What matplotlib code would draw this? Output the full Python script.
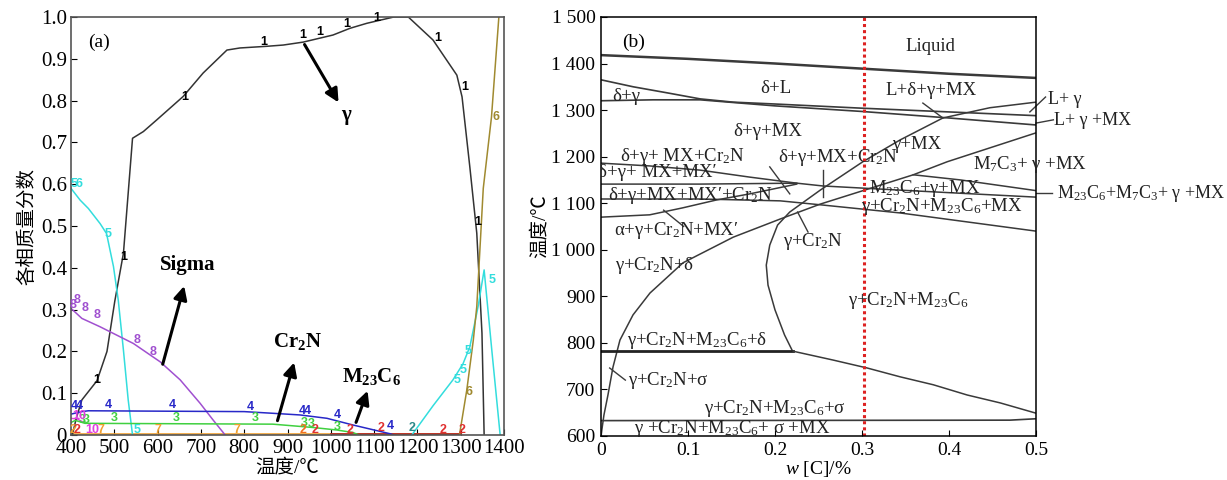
import matplotlib
matplotlib.use("Agg")
import matplotlib.pyplot as plt

plt.rcParams['font.family'] = ['Liberation Serif', 'Noto Sans CJK SC']
plt.rcParams['mathtext.fontset'] = 'custom'
plt.rcParams['mathtext.rm'] = 'Liberation Serif'
plt.rcParams['mathtext.it'] = 'Liberation Serif:italic'
plt.rcParams['mathtext.bf'] = 'Liberation Serif:bold'

# ---------------- (a) phase fractions vs temperature ----------------
gamma_T = [403, 412, 425, 460, 483, 501, 521, 542, 567, 598, 659, 705, 760, 790, 852, 890, 936,
           1005, 1044, 1083, 1145, 1179, 1236, 1291, 1303, 1321, 1337, 1349, 1354]
gamma_f = [0.0, 0.04, 0.084, 0.13, 0.2, 0.32, 0.435, 0.71, 0.726, 0.754, 0.81, 0.866, 0.921, 0.926,
           0.93, 0.933, 0.94, 0.957, 0.973, 0.985, 1.0, 1.0, 0.945, 0.861, 0.809, 0.641, 0.483, 0.244, 0.0]

cyan_lo_T = [400, 421, 440, 467, 482, 498, 509, 521, 532, 542]
cyan_lo_f = [0.59, 0.562, 0.542, 0.506, 0.482, 0.403, 0.323, 0.203, 0.084, 0.0]
cyan_hi_T = [1187, 1236, 1282, 1305, 1321, 1340, 1354, 1372, 1391]
cyan_hi_f = [0.0, 0.07, 0.132, 0.17, 0.211, 0.307, 0.395, 0.2, 0.0]

liq_T = [1297, 1314, 1329, 1337, 1352, 1371, 1388]
liq_f = [0.0, 0.108, 0.227, 0.307, 0.59, 0.761, 1.0]

sigma_T = [400, 425, 467, 544, 606, 652, 698, 728, 756]
sigma_f = [0.303, 0.279, 0.259, 0.219, 0.175, 0.132, 0.076, 0.036, 0.0]

cr2n_T = [400, 425, 440, 800, 866, 929, 991, 1051, 1100, 1137, 1145]
cr2n_f = [0.05, 0.056, 0.058, 0.056, 0.052, 0.048, 0.04, 0.024, 0.012, 0.003, 0.0]

green_T = [400, 410, 432, 866, 959, 1014, 1051, 1065]
green_f = [0.03, 0.035, 0.028, 0.026, 0.018, 0.012, 0.006, 0.0]

orange_T = [400, 1300]
orange_f = [0.002, 0.002]
red_T = [1000, 1300]
red_f = [0.003, 0.003]
magenta_T = [400, 415, 430]
magenta_f = [0.04, 0.038, 0.03]

# curve number labels: (text, T, f, colour)
curve_labels = [
    ("1", 459, 0.132, "black"), ("1", 521, 0.427, "black"), ("1", 663, 0.809, "black"),
    ("1", 844, 0.941, "black"), ("1", 936, 0.957, "black"), ("1", 975, 0.965, "black"),
    ("1", 1037, 0.983, "black"), ("1", 1106, 0.998, "black"), ("1", 1248, 0.949, "black"),
    ("1", 1310, 0.833, "black"), ("1", 1340, 0.51, "black"),
    ("5", 407, 0.6, "#33dddd"), ("6", 419, 0.6, "#33dddd"), ("5", 486, 0.48, "#33dddd"),
    ("5", 552, 0.012, "#33dddd"), ("5", 1291, 0.132, "#33dddd"), ("5", 1306, 0.155, "#33dddd"),
    ("5", 1317, 0.2, "#33dddd"), ("5", 1372, 0.37, "#33dddd"),
    ("6", 1319, 0.104, "#a08a30"), ("6", 1381, 0.76, "#a08a30"),
    ("8", 404, 0.31, "#a050d0"), ("8", 414, 0.323, "#a050d0"), ("8", 432, 0.304, "#a050d0"),
    ("8", 459, 0.287, "#a050d0"), ("8", 552, 0.227, "#a050d0"), ("8", 589, 0.199, "#a050d0"),
    ("4", 407, 0.069, "#2828c8"), ("4", 420, 0.069, "#2828c8"), ("4", 486, 0.071, "#2828c8"),
    ("4", 633, 0.071, "#2828c8"), ("4", 815, 0.068, "#2828c8"), ("4", 933, 0.058, "#2828c8"),
    ("4", 946, 0.058, "#2828c8"), ("4", 1015, 0.047, "#2828c8"), ("4", 1137, 0.022, "#2828c8"),
    ("3", 425, 0.037, "#40d040"), ("3", 436, 0.037, "#40d040"), ("3", 499, 0.04, "#40d040"),
    ("3", 642, 0.041, "#40d040"), ("3", 825, 0.04, "#40d040"), ("3", 938, 0.029, "#40d040"),
    ("3", 955, 0.027, "#40d040"), ("3", 1015, 0.02, "#40d040"),
    ("10", 418, 0.045, "#e040e0"), ("10", 449, 0.012, "#e040e0"),
    ("2", 404, 0.012, "#f0a030"), ("2", 415, 0.012, "#e03030"), ("7", 468, 0.012, "#f0a030"),
    ("7", 601, 0.012, "#f0a030"), ("7", 783, 0.012, "#f0a030"),
    ("2", 936, 0.011, "#f07020"), ("2", 963, 0.011, "#e03030"), ("2", 1044, 0.012, "#e03030"),
    ("2", 1117, 0.016, "#e03030"), ("2", 1187, 0.016, "#2a8a8a"), ("2", 1259, 0.012, "#e03030"),
    ("2", 1302, 0.012, "#e03030"),
]

# phase arrows: (text, text T, text f, tail T, tail f, head T, head f)
phase_arrows = [
    (r"$\mathbf{\gamma}$", 1037, 0.76, 936, 0.94, 1021, 0.79),
    ("Sigma", 670, 0.407, 610, 0.163, 663, 0.363),
    (r"$\mathbf{Cr_2N}$", 922, 0.223, 875, 0.028, 917, 0.18),
    (r"$\mathbf{M_{23}C_6}$", 1095, 0.14, 1056, 0.024, 1087, 0.112),
]

# ---------------- (b) phase diagram, w[C] vs temperature ----------------
liquidus_w = [0, 0.1, 0.2, 0.3, 0.4, 0.5]
liquidus_T = [1418, 1410, 1400, 1389, 1378, 1369]
b2_w = [0, 0.037, 0.076, 0.114, 0.152, 0.2, 0.3, 0.4, 0.5]
b2_T = [1365, 1350, 1337, 1324, 1317, 1313, 1304, 1296, 1288]
b3_w = [0, 0.06, 0.114, 0.2, 0.3, 0.4, 0.5]
b3_T = [1320, 1322, 1322, 1309, 1297, 1283, 1268]
r1_w = [0.22, 0.211, 0.2, 0.192, 0.19, 0.194, 0.203, 0.217, 0.252, 0.301, 0.344, 0.393, 0.447, 0.5]
r1_T = [783, 817, 871, 924, 967, 1010, 1053, 1081, 1128, 1189, 1236, 1283, 1305, 1317]
r2_w = [0, 0.0034, 0.008, 0.0138, 0.0218, 0.0368, 0.0563, 0.0943, 0.152, 0.206, 0.252, 0.359, 0.398, 0.5]
r2_T = [600, 645, 688, 748, 806, 860, 907, 972, 1027, 1066, 1098, 1161, 1189, 1251]
h780_w = [0, 0.221]
h780_T = [782, 782]
low_w = [0.221, 0.267, 0.306, 0.344, 0.382, 0.421, 0.459, 0.5]
low_T = [782, 763, 746, 727, 710, 688, 671, 649]
bottom_w = [0, 0.47, 0.5]
bottom_T = [633, 634, 637]
m1_w = [0, 0.056, 0.114, 0.171, 0.225, 0.255, 0.344, 0.5]
m1_T = [1186, 1180, 1171, 1156, 1143, 1137, 1128, 1113]
m2_w = [0, 0.114, 0.225]
m2_T = [1141, 1141, 1143]
m3_w = [0, 0.114, 0.206, 0.255, 0.344, 0.5]
m3_T = [1109, 1109, 1105, 1096, 1079, 1040]
m4_w = [0, 0.056, 0.094, 0.133, 0.171, 0.225]
m4_T = [1070, 1075, 1090, 1107, 1120, 1141]
m5_w = [0.359, 0.413, 0.5]
m5_T = [1161, 1150, 1127]
# short leader strokes inside the plot: (w0, T0, w1, T1)
leaders = [
    (0.194, 1178, 0.217, 1120), (0.255, 1171, 0.255, 1113), (0.072, 1085, 0.095, 1050),
    (0.226, 1081, 0.238, 1038), (0.37, 1315, 0.393, 1283), (0.010, 746, 0.028, 720),
]
outer_leaders = [
    (0.493, 1296, 0.511, 1328), (0.5, 1272, 0.52, 1279), (0.5, 1122, 0.518, 1122),
]
region_labels = [
    ("Liquid", 0.379, 1436), ("δ+L", 0.201, 1347), ("δ+γ", 0.029, 1330),
    ("L+δ+γ+MX", 0.379, 1343), ("δ+γ+MX", 0.192, 1255), ("γ+MX", 0.363, 1227),
    ("δ+γ+ MX+Cr$_2$N", 0.094, 1201), ("δ+γ+MX+Cr$_2$N", 0.272, 1199),
    ("δ+γ+MX+MX′+Cr$_2$N", 0.103, 1116), ("M$_{23}$C$_6$+γ+MX", 0.372, 1131),
    ("γ+Cr$_2$N+M$_{23}$C$_6$+MX", 0.392, 1092), ("α+γ+Cr$_2$N+MX′", 0.087, 1042),
    ("γ+Cr$_2$N", 0.244, 1017), ("γ+Cr$_2$N+δ", 0.062, 967),
    ("γ+Cr$_2$N+M$_{23}$C$_6$", 0.353, 892), ("γ+Cr$_2$N+M$_{23}$C$_6$+δ", 0.110, 806),
    ("γ+Cr$_2$N+σ", 0.078, 720), ("γ+Cr$_2$N+M$_{23}$C$_6$+σ", 0.2, 660),
    ("γ +Cr$_2$N+M$_{23}$C$_6$+ σ +MX", 0.151, 617),
]
outer_labels = [
    ("L+ γ", 0.514, 1322), ("L+ γ +MX", 0.521, 1277),
    ("M$_{23}$C$_6$+M$_7$C$_3$+ γ +MX", 0.524, 1120),
]
b_yticks = [600, 700, 800, 900, 1000, 1100, 1200, 1300, 1400, 1500]
b_yticklabels = ["600", "700", "800", "900", "1 000", "1 100", "1 200", "1 300", "1 400", "1 500"]
b_xticks = [0, 0.1, 0.2, 0.3, 0.4, 0.5]
b_xticklabels = ["0", "0.1", "0.2", "0.3", "0.4", "0.5"]

fig = plt.figure(figsize=(12.27, 4.8), dpi=100)

# ---- panel (a)
ax = fig.add_axes([0.0579, 0.0937, 0.3529, 0.8708])
ax.plot(orange_T, orange_f, color="#f0a030", lw=1.2)
ax.plot(red_T, red_f, color="#b02020", lw=1.2)
ax.plot(magenta_T, magenta_f, color="#e040e0", lw=1.0)
ax.plot(gamma_T, gamma_f, color="#333333", lw=1.1)
ax.plot(cyan_lo_T, cyan_lo_f, color="#33dddd", lw=1.1)
ax.plot(cyan_hi_T, cyan_hi_f, color="#33dddd", lw=1.1)
ax.plot(liq_T, liq_f, color="#a08a30", lw=1.1)
ax.plot(sigma_T, sigma_f, color="#a050d0", lw=1.1)
ax.plot(cr2n_T, cr2n_f, color="#2828c8", lw=1.1)
ax.plot(green_T, green_f, color="#40d040", lw=1.1)
for txt, t, f, c in curve_labels:
    ax.text(t, f, txt, color=c, fontsize=9, fontweight="bold", family="Liberation Sans",
            ha="center", va="center")
for txt, tx, ty, t0, f0, t1, f1 in phase_arrows:
    ax.annotate("", xy=(t1, f1), xytext=(t0, f0),
                arrowprops=dict(arrowstyle="-|>", color="black", lw=2.2, mutation_scale=20))
    ax.text(tx, ty, txt, fontsize=15, fontweight="bold", ha="center", va="center")
ax.text(0.04, 0.96, "(a)", transform=ax.transAxes, fontsize=14, ha="left", va="top")
ax.set_xlim(400, 1400)
ax.set_ylim(0, 1.0)
ax.set_xticks(range(400, 1401, 100))
ax.set_yticks([i / 10 for i in range(11)])
ax.set_yticklabels(["0"] + [f"{i / 10:.1f}" for i in range(1, 11)])
ax.tick_params(direction="in", length=4, labelsize=15, pad=3)
for s in ax.spines.values():
    s.set_color("#555555")
    s.set_linewidth(1.2)
ax.set_xlabel("温度/℃", fontsize=14, labelpad=0)
ax.set_ylabel("各相质量分数", fontsize=14, labelpad=3)

# ---- panel (b)
bx = fig.add_axes([0.4898, 0.0917, 0.3545, 0.873])
lc = "#3a3a3a"
bx.plot(liquidus_w, liquidus_T, color=lc, lw=1.8)
bx.plot(b2_w, b2_T, color=lc, lw=1.2)
bx.plot(b3_w, b3_T, color=lc, lw=1.2)
bx.plot(r1_w, r1_T, color=lc, lw=1.1)
bx.plot(r2_w, r2_T, color=lc, lw=1.1)
bx.plot(h780_w, h780_T, color="#222222", lw=2.0)
bx.plot(low_w, low_T, color=lc, lw=1.1)
bx.plot(bottom_w, bottom_T, color=lc, lw=1.2)
bx.plot(m1_w, m1_T, color=lc, lw=1.1)
bx.plot(m2_w, m2_T, color=lc, lw=1.1)
bx.plot(m3_w, m3_T, color=lc, lw=1.1)
bx.plot(m4_w, m4_T, color=lc, lw=1.1)
bx.plot(m5_w, m5_T, color=lc, lw=1.1)
for w0, t0, w1, t1 in leaders:
    bx.plot([w0, w1], [t0, t1], color=lc, lw=1.0)
for w0, t0, w1, t1 in outer_leaders:
    bx.plot([w0, w1], [t0, t1], color=lc, lw=1.0, clip_on=False)
bx.axvline(0.302, color="#dd2222", lw=2.2, ls=(0, (1, 1)))
for txt, w, t in region_labels:
    bx.text(w, t, txt, fontsize=13.5, ha="center", va="center", color="#222222")
bx.text(-0.003, 1165, "δ+γ+ MX+MX′", fontsize=13.5, ha="left", va="center", color="#222222",
        clip_on=True)
bx.text(0.493, 1184, "M$_7$C$_3$+ γ +MX", fontsize=13.5, ha="center", va="center",
        color="#222222", clip_on=False)
for txt, w, t in outer_labels:
    bx.text(w, t, txt, fontsize=13, ha="left", va="center", color="#222222", clip_on=False)
bx.text(0.024, 1446, "(b)", fontsize=14, ha="left", va="center")
bx.set_xlim(0, 0.5)
bx.set_ylim(600, 1500)
bx.set_xticks(b_xticks)
bx.set_xticklabels(b_xticklabels)
bx.set_yticks(b_yticks)
bx.set_yticklabels(b_yticklabels)
bx.tick_params(direction="in", length=4, labelsize=14, pad=4)
for s in bx.spines.values():
    s.set_color("black")
    s.set_linewidth(1.1)
bx.set_xlabel(r"$\mathit{w}$ [C]/%", fontsize=14, labelpad=0)
bx.set_ylabel("温度/℃", fontsize=14, labelpad=2)

fig.savefig("out.png", dpi=100)
